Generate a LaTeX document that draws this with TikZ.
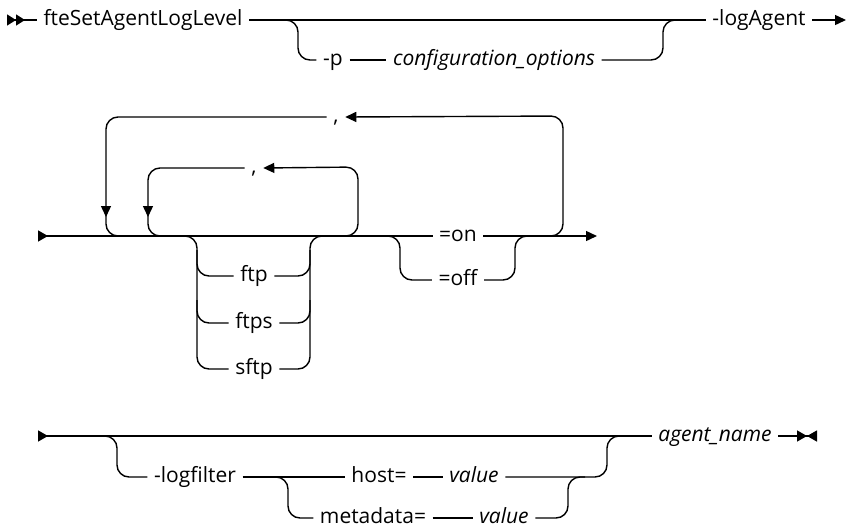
\documentclass[tikz,border=0pt]{standalone}
\usepackage{fontspec}
\setmainfont{Open Sans}
\usetikzlibrary{arrows.meta}

\begin{document}
\begin{tikzpicture}[x=1pt,y=-1pt,line width=1.4pt,rounded corners=12pt,
  >={Triangle[length=11pt,width=10pt]},
  lbl/.style={inner xsep=6pt,inner ysep=0pt,text height=15pt,text depth=4pt,font=\fontsize{21}{24}\selectfont},
  var/.style={lbl,font=\fontsize{21}{24}\selectfont\itshape}]
\useasboundingbox (0,0) rectangle (849,531);
% row 1
\coordinate (s1) at (7,20);
\coordinate (e1) at (846,20);
\node[lbl] (cmd) at (143,20) {fteSetAgentLogLevel};
\node[lbl] (p) at (333,60) {-p};
\node[var] (conf) at (494,60) {configuration\_options};
\node[lbl] (la) at (759,20) {-logAgent};
\draw[{Triangle[reversed,length=9pt,width=11pt]Triangle[reversed,length=9pt,width=11pt]}-] (s1) -- (cmd.west);
\draw (cmd.east) -- (la.west);
\draw (cmd.east) -- (298,20) |- (p.west);
\draw (p.east) -- (conf.west);
\draw (conf.east) -| (663,20) -- (la.west);
\draw[->] (la.east) -- (e1);
% row 2
\coordinate (s2) at (38,236);
\coordinate (e2) at (597,236);
\node[lbl] (on) at (458,236) {=on};
\node[lbl] (off) at (458,280) {=off};
\node[lbl] (ftp) at (254,276) {ftp};
\node[lbl] (ftps) at (254,323) {ftps};
\node[lbl] (sftp) at (254,369) {sftp};
\node[lbl] (c1) at (336,117) {,};
\node[lbl] (c2) at (254,168) {,};
\draw[{Triangle[reversed,length=10pt,width=11pt]}-] (s2) -- (on.west);
\draw[->] (on.east) -- (e2);
\draw (180,236) -| (197,369) -- (sftp.west);
\draw (197,250) |- (ftp.west);
\draw (197,300) |- (ftps.west);
\draw (sftp.east) -| (310,236) -- (330,236);
\draw (ftp.east) -| (310,250);
\draw (ftps.east) -| (310,300);
\draw[->] (330,236) -| (358,167) -- (c2.east);
\draw[->] (c2.west) -| (148,217);
\draw (148,215) |- (172,236);
\draw[->] (530,236) -| (563,116) -- (c1.east);
\draw[->] (c1.west) -| (106,217);
\draw (106,215) |- (130,236);
\draw (380,236) -| (400,280) -- (off.west);
\draw (off.east) -| (515,236) -- (535,236);
% row 3
\coordinate (s3) at (38,436);
\coordinate (e3) at (817,436);
\node[var] (an) at (715,436) {agent\_name};
\node[lbl] (lf) at (195,477) {-logfilter};
\node[lbl] (host) at (379,477) {host=};
\node[var] (v1) at (474,477) {value};
\node[lbl] (md) at (373,518) {metadata=};
\node[var] (v2) at (504,518) {value};
\draw[{Triangle[reversed,length=10pt,width=11pt]}-] (s3) -- (an.west);
\draw[-{Triangle[length=10pt,width=11pt]Triangle[reversed,length=10pt,width=11pt]}] (an.east) -- (e3);
\draw (95,436) -| (117,477) -- (lf.west);
\draw (lf.east) -- (host.west);
\draw (host.east) -- (v1.west);
\draw (v1.east) -| (607,436) -- (625,436);
\draw (262,477) -| (288,518) -- (md.west);
\draw (md.east) -- (v2.west);
\draw (v2.east) -| (568,477) -- (585,477);
\end{tikzpicture}
\end{document}
